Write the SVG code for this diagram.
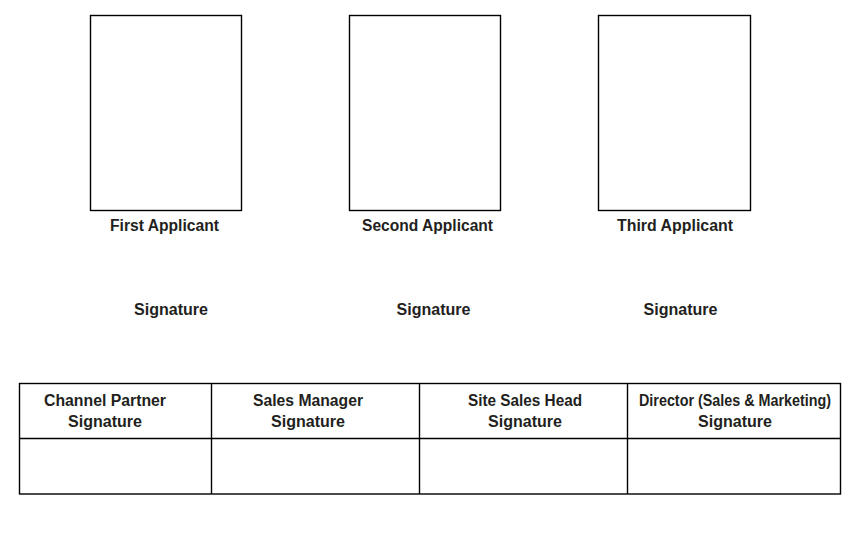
<svg xmlns="http://www.w3.org/2000/svg" width="864" height="538" viewBox="0 0 864 538">
<style>
.box{fill:#fff;stroke:#000;stroke-width:1.4}
.ln{stroke:#000;stroke-width:1.4;fill:none}
.t{font-family:"Liberation Sans",Arial,sans-serif;font-weight:bold;font-size:16px;fill:#231f20;text-anchor:middle}
</style>
<rect width="864" height="538" fill="#fff"/>
<g id="photo1"><rect class="box" x="90.5" y="15.5" width="151" height="195"/><text class="t" x="164.5" y="230.5" textLength="109" lengthAdjust="spacingAndGlyphs">First Applicant</text></g>
<g id="photo2"><rect class="box" x="349.5" y="15.5" width="151" height="195"/><text class="t" x="427.5" y="230.5" textLength="131" lengthAdjust="spacingAndGlyphs">Second Applicant</text></g>
<g id="photo3"><rect class="box" x="598.5" y="15.5" width="152" height="195"/><text class="t" x="675" y="230.5" textLength="116" lengthAdjust="spacingAndGlyphs">Third Applicant</text></g>
<g id="sig1"><text class="t" x="171" y="314.5" textLength="74" lengthAdjust="spacingAndGlyphs">Signature</text></g>
<g id="sig2"><text class="t" x="433.5" y="314.5" textLength="74" lengthAdjust="spacingAndGlyphs">Signature</text></g>
<g id="sig3"><text class="t" x="680.5" y="314.5" textLength="74" lengthAdjust="spacingAndGlyphs">Signature</text></g>
<g id="table">
<rect class="ln" x="19.5" y="383.5" width="821" height="110.5"/>
<line class="ln" x1="19.5" y1="438.5" x2="840.5" y2="438.5"/>
<line class="ln" x1="211.5" y1="383.5" x2="211.5" y2="494"/>
<line class="ln" x1="419.5" y1="383.5" x2="419.5" y2="494"/>
<line class="ln" x1="627.5" y1="383.5" x2="627.5" y2="494"/>
<g id="cp"><text class="t" x="105" y="405.5" textLength="122" lengthAdjust="spacingAndGlyphs">Channel Partner</text><text class="t" x="105" y="427" textLength="74" lengthAdjust="spacingAndGlyphs">Signature</text></g>
<g id="sm"><text class="t" x="308" y="405.5" textLength="110" lengthAdjust="spacingAndGlyphs">Sales Manager</text><text class="t" x="308" y="427" textLength="74" lengthAdjust="spacingAndGlyphs">Signature</text></g>
<g id="ssh"><text class="t" x="525" y="405.5" textLength="114" lengthAdjust="spacingAndGlyphs">Site Sales Head</text><text class="t" x="525" y="427" textLength="74" lengthAdjust="spacingAndGlyphs">Signature</text></g>
<g id="dir"><text class="t" x="735" y="405.5" textLength="192" lengthAdjust="spacingAndGlyphs">Director (Sales &amp; Marketing)</text><text class="t" x="735" y="427" textLength="74" lengthAdjust="spacingAndGlyphs">Signature</text></g>
</g>
<g id="connectors"/>
</svg>
